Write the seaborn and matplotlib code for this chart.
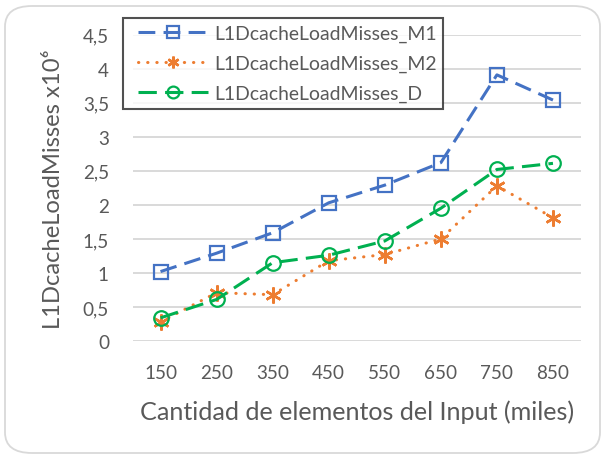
import matplotlib
matplotlib.use("Agg")
import matplotlib.pyplot as plt
import seaborn as sns
import pandas as pd
from matplotlib.patches import FancyBboxPatch
from matplotlib.lines import Line2D
from matplotlib.legend_handler import HandlerLine2D

sizes = [150, 250, 350, 450, 550, 650, 750, 850]
m1 = [1.02, 1.29, 1.59, 2.03, 2.29, 2.62, 3.91, 3.54]
m2 = [0.28, 0.71, 0.68, 1.18, 1.27, 1.50, 2.28, 1.81]
d = [0.34, 0.61, 1.15, 1.26, 1.47, 1.95, 2.52, 2.61]
names = ["L1DcacheLoadMisses_M1", "L1DcacheLoadMisses_M2", "L1DcacheLoadMisses_D"]
yticks = [0, 0.5, 1, 1.5, 2, 2.5, 3, 3.5, 4, 4.5]
ytick_labels = ["0", "0,5", "1", "1,5", "2", "2,5", "3", "3,5", "4", "4,5"]

sns.set_theme(style="white")
plt.rcParams['font.family'] = ['Lato', 'DejaVu Sans']
txt = "#595959"

W, H = 602, 456
fig = plt.figure(figsize=(W / 100, H / 100), dpi=100)
L, R, T, B = 132.5, 581, 35.7, 342
ax = fig.add_axes([L / W, 1 - B / H, (R - L) / W, (B - T) / H])

border = FancyBboxPatch((5 / W, 2 / H), 595 / W, 447 / H,
                        boxstyle="round,pad=0,rounding_size=0.045",
                        transform=fig.transFigure, facecolor="white",
                        edgecolor="#D9D9D9", linewidth=1.3, zorder=-10)
fig.patches.append(border)

styles = [
    dict(color="#4472C4", linestyle=(0, (5.5, 2.7)), marker="s", markersize=10.2,
         markerfacecolor="none", markeredgecolor="#4472C4", markeredgewidth=1.6),
    dict(color="#ED7D31", linestyle=(0, (0.1, 2.9)), marker=(6, 2, 0), markersize=11.5,
         markeredgecolor="#ED7D31", markeredgewidth=1.8, dash_capstyle="round"),
    dict(color="#00B050", linestyle=(0, (6, 2.7)), marker="o", markersize=10.5,
         markerfacecolor="none", markeredgecolor="#00B050", markeredgewidth=1.6),
]
for vals, name, st in zip([m1, m2, d], names, styles):
    df = pd.DataFrame({"x": sizes, "y": vals})
    sns.lineplot(data=df, x="x", y="y", ax=ax, label=name, linewidth=2.2, **st)

ax.set_xlim(100, 900)
ax.set_ylim(0, 4.5)
ax.set_xticks(sizes)
ax.set_xticklabels([str(s) for s in sizes])
ax.set_yticks(yticks)
ax.set_yticklabels(ytick_labels)
ax.tick_params(axis="both", length=0, labelsize=14, colors=txt)
ax.tick_params(axis="x", pad=16.5)
ax.tick_params(axis="y", pad=17)
ax.yaxis.grid(True, color="#D9D9D9", linewidth=1.4)
ax.set_axisbelow(True)
for s in ax.spines.values():
    s.set_visible(False)
ax.set_xlabel("Cantidad de elementos del Input (miles)", fontsize=17, color=txt)
ax.set_ylabel("L1DcacheLoadMisses x10⁶", fontsize=16, color=txt)
ax.xaxis.set_label_coords(((L + R) / 2 - L) / (R - L), (B - 412) / (B - T))
ax.xaxis.label.set_va("center")
ax.yaxis.set_label_coords((54 - L) / (R - L), 0.5)
ax.yaxis.label.set_va("center")

# fit text sizes to the reference pixel extents
fig.canvas.draw()
rend = fig.canvas.get_renderer()
xl = ax.xaxis.label
xl.set_fontsize(xl.get_fontsize() * 433 / xl.get_window_extent(rend).width)
yl = ax.yaxis.label
yl.set_fontsize(yl.get_fontsize() * 281 / yl.get_window_extent(rend).height)
tl = ax.get_xticklabels()[0]
tsize = 14 * 33 / tl.get_window_extent(rend).width
ax.tick_params(axis="both", labelsize=tsize)

tmp = fig.text(0, 0, names[0], fontsize=14)
lsize = 14 * 223 / tmp.get_window_extent(rend).width
tmp.set_fontsize(lsize)
th = tmp.get_window_extent(rend).height
tmp.remove()
fpx = lsize * 100 / 72

bp = max((91 - 60 - th) / 2, 2)
xpad = 15 - bp
leg = ax.legend(loc="upper left",
                bbox_to_anchor=((123 - L) / (R - L), (B - 19) / (B - T)),
                frameon=True, fancybox=False, edgecolor="#262626", fontsize=lsize,
                handlelength=(70 + xpad) / fpx, handletextpad=6 / fpx,
                borderpad=bp / fpx, labelspacing=(30 - th) / fpx, borderaxespad=0,
                handler_map={Line2D: HandlerLine2D(xpad=xpad / fpx)})
leg.get_frame().set_linewidth(1.5)
for t in leg.get_texts():
    t.set_color(txt)
for ln in leg.get_lines():
    ln.set_markersize(8.5)

fig.savefig("out.png", dpi=100)
